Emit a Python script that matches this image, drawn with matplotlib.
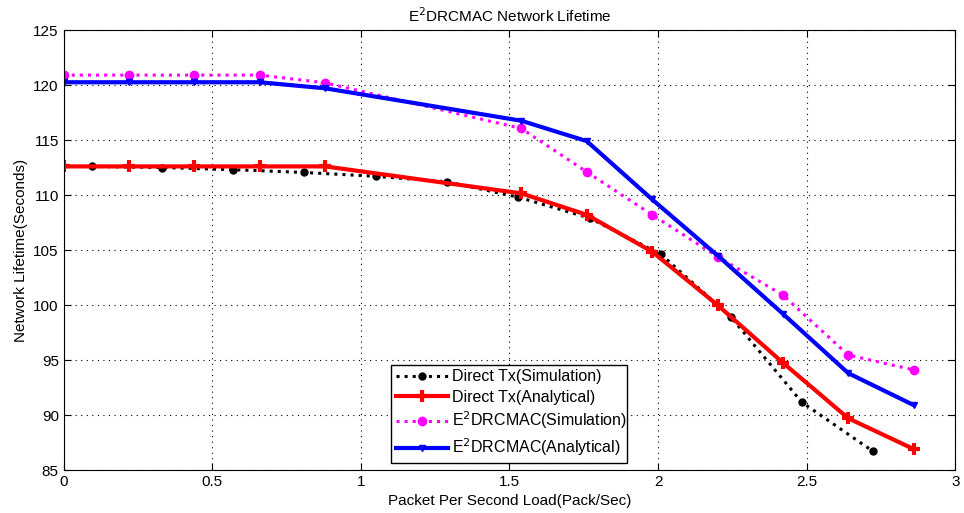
import matplotlib
matplotlib.use("Agg")
import matplotlib.pyplot as plt

plt.rcParams['font.family'] = ['Liberation Sans Narrow', 'Liberation Sans', 'DejaVu Sans']

# load values (Pack/Sec)
x_sim = [0.094, 0.33, 0.57, 0.81, 1.05, 1.29, 1.53, 1.77, 2.01, 2.245, 2.484, 2.723]
x_ana = [0.0, 0.22, 0.44, 0.66, 0.88, 1.54, 1.76, 1.98, 2.20, 2.42, 2.64, 2.86]

# lifetime in seconds
direct_sim = [112.6, 112.5, 112.3, 112.05, 111.7, 111.2, 109.8, 107.9, 104.6, 98.9, 91.15, 86.7]
direct_ana = [112.6, 112.6, 112.6, 112.6, 112.6, 110.15, 108.2, 104.85, 100.0, 94.75, 89.7, 86.9]
e2_sim = [120.9, 120.9, 120.9, 120.9, 120.2, 116.05, 112.1, 108.2, 104.4, 100.9, 95.45, 94.1]
e2_ana = [120.25, 120.25, 120.25, 120.25, 119.7, 116.75, 114.9, 109.6, 104.5, 99.2, 93.8, 90.9]

fig = plt.figure(figsize=(9.64, 5.13), dpi=100)
ax = fig.add_axes([0.066, 0.0838, 0.925, 0.8577])

ax.plot(x_sim, direct_sim, color='black', linestyle=':', linewidth=2.2,
        marker='o', markersize=5, label='Direct Tx(Simulation)')
ax.plot(x_ana, direct_ana, color='red', linestyle='-', linewidth=3,
        marker='+', markersize=9, markeredgewidth=3, label='Direct Tx(Analytical)')
ax.plot(x_ana, e2_sim, color='magenta', linestyle=':', linewidth=2.2,
        marker='o', markersize=6, label='E$^2$DRCMAC(Simulation)')
ax.plot(x_ana, e2_ana, color='blue', linestyle='-', linewidth=3,
        marker='v', markersize=5, label='E$^2$DRCMAC(Analytical)')

ax.set_xlim(0, 3)
ax.set_ylim(85, 125)
ax.set_xticks([0, 0.5, 1, 1.5, 2, 2.5, 3])
ax.set_xticklabels(['0', '0.5', '1', '1.5', '2', '2.5', '3'])
ax.set_yticks(range(85, 126, 5))
ax.grid(True, color='black', linestyle=(0, (1, 4)), linewidth=0.8)
ax.tick_params(direction='in', top=True, right=True, labelsize=11, length=5)

ax.set_title('E$^2$DRCMAC Network Lifetime', fontsize=11)
ax.set_xlabel('Packet Per Second Load(Pack/Sec)', fontsize=11)
ax.set_ylabel('Network Lifetime(Seconds)', fontsize=11)

leg = ax.legend(loc='lower left', bbox_to_anchor=(0.367, 0.016, 0.265, 0.22),
                mode='expand', borderaxespad=0, fontsize=11.5, fancybox=False,
                framealpha=1, edgecolor='black', handlelength=3.3, numpoints=1,
                handletextpad=0.2, borderpad=0.3, labelspacing=0.32)
leg.get_frame().set_linewidth(1)

fig.savefig('out.png', dpi=100)
